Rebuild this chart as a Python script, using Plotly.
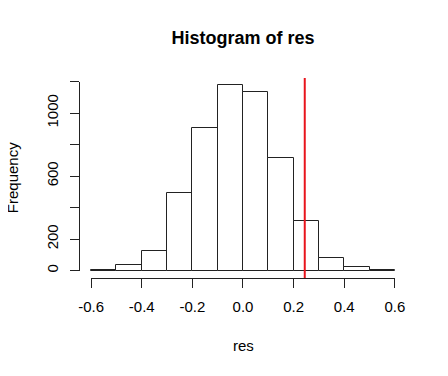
import plotly.graph_objects as go

bin_edges = [-0.6, -0.5, -0.4, -0.3, -0.2, -0.1, 0.0, 0.1, 0.2, 0.3, 0.4, 0.5, 0.6]
counts = [2, 38, 125, 492, 905, 1176, 1136, 716, 318, 83, 22, 5]
ref_value = 0.244
x_ticks = [-0.6, -0.4, -0.2, 0.0, 0.2, 0.4, 0.6]
x_tick_labels = ["-0.6", "-0.4", "-0.2", "0.0", "0.2", "0.4", "0.6"]
y_ticks = [0, 200, 400, 600, 800, 1000, 1200]
y_tick_labels = ["0", "200", "", "600", "", "1000", ""]

FONT = "Liberation Sans, Arial, Helvetica, sans-serif"
# page body has an 8px margin, so the figure is sized/offset accordingly
W, H = 440, 368
ML, MR, MT, MB = 70.5, 40.5, 70, 98

centers = [(a + b) / 2 for a, b in zip(bin_edges[:-1], bin_edges[1:])]
widths = [b - a for a, b in zip(bin_edges[:-1], bin_edges[1:])]

xlo, xhi = bin_edges[0], bin_edges[-1]
xpad = 0.04 * (xhi - xlo)
xr = [xlo - xpad, xhi + xpad]
ymax = max(counts)
yr = [-0.04 * ymax, 1.04 * ymax]

def frac(v, r):
    return (v - r[0]) / (r[1] - r[0])

fig = go.Figure()
fig.add_trace(go.Bar(
    x=centers, y=counts, width=widths,
    marker=dict(color="white", line=dict(color="#222", width=1)),
    hoverinfo="skip", showlegend=False, xaxis="x", yaxis="y",
))
fig.add_trace(go.Scatter(
    x=[x_ticks[0], x_ticks[-1]], y=[y_ticks[0], y_ticks[-1]],
    mode="markers", marker=dict(opacity=0), hoverinfo="skip",
    showlegend=False, xaxis="x2", yaxis="y2",
))

fig.add_shape(type="line", xref="x", yref="paper", x0=ref_value, x1=ref_value,
              y0=0, y1=1, line=dict(color="#e8141c", width=2))

fig.update_layout(
    width=W, height=H,
    margin=dict(l=ML, r=MR, t=MT, b=MB, pad=0),
    paper_bgcolor="white", plot_bgcolor="rgba(0,0,0,0)",
    font=dict(family=FONT, size=15, color="black"),
    bargap=0,
    title=dict(text="<b>Histogram of res</b>", x=0.5, xref="paper", xanchor="center",
               y=1 - 29.5 / H, yref="container", yanchor="middle",
               font=dict(size=18, family=FONT, color="black")),
    xaxis=dict(range=xr, domain=[0, 1], visible=False, fixedrange=True),
    yaxis=dict(range=yr, domain=[0, 1], visible=False, fixedrange=True),
    xaxis2=dict(range=[x_ticks[0], x_ticks[-1]],
                domain=[frac(x_ticks[0], xr), frac(x_ticks[-1], xr)],
                anchor="free", position=0,
                tickvals=x_ticks, ticktext=x_tick_labels,
                showline=True, linecolor="#222", linewidth=1,
                ticks="outside", ticklen=9, tickcolor="#222", tickwidth=1,
                showgrid=False, zeroline=False, ticklabelstandoff=6,
                tickfont=dict(size=15, family=FONT, color="black")),
    yaxis2=dict(range=[y_ticks[0], y_ticks[-1]],
                domain=[frac(y_ticks[0], yr), frac(y_ticks[-1], yr)],
                anchor="free", position=0,
                tickvals=y_ticks, ticktext=y_tick_labels, tickangle=-90,
                showline=True, linecolor="#222", linewidth=1,
                ticks="outside", ticklen=9, tickcolor="#222", tickwidth=1,
                showgrid=False, zeroline=False, ticklabelstandoff=6,
                tickfont=dict(size=15, family=FONT, color="black")),
    annotations=[
        dict(text="res", xref="paper", yref="paper", x=0.5,
             y=-(337.5 - (H - MB)) / (H - MT - MB), xanchor="center", yanchor="middle",
             showarrow=False, font=dict(size=15, family=FONT, color="black")),
        dict(text="Frequency", xref="paper", yref="paper",
             x=(3.5 - ML) / (W - ML - MR), y=0.5, xanchor="center", yanchor="middle",
             textangle=-90, showarrow=False, font=dict(size=15, family=FONT, color="black")),
    ],
)

fig.write_html("out.html")
